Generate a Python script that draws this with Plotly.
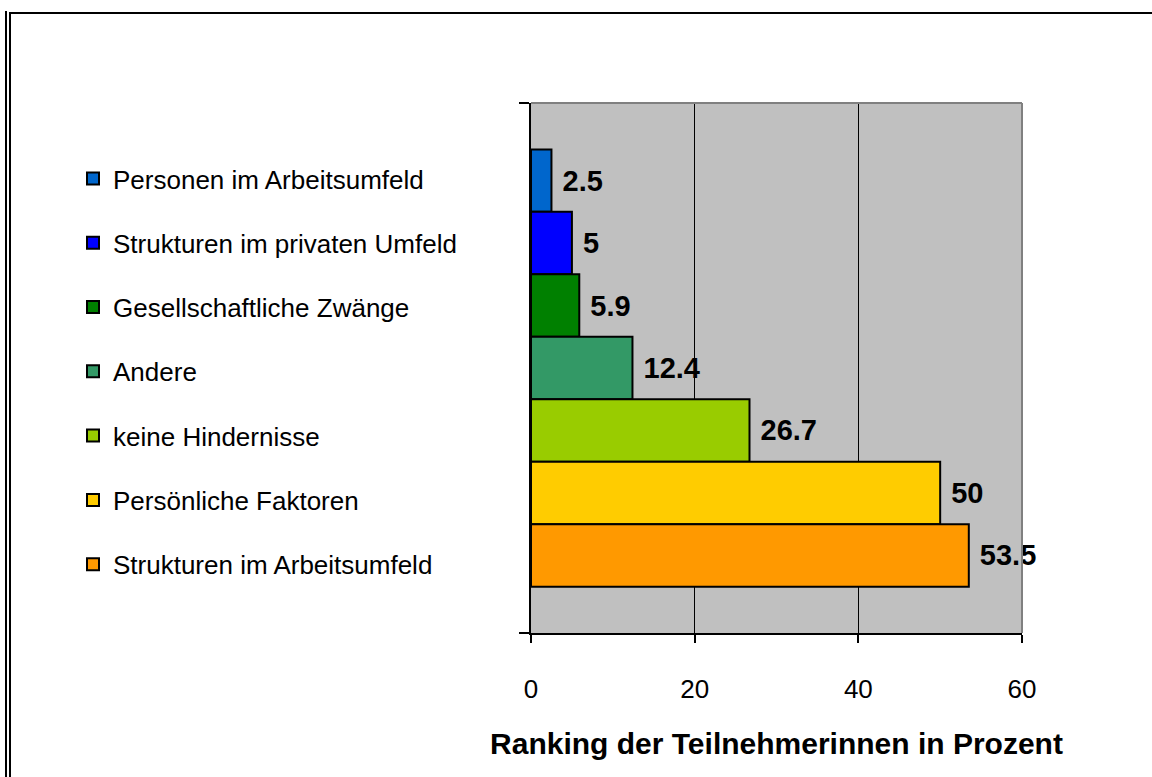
import plotly.graph_objects as go

# Obstacles named by participants (share in percent)
categories = [
    "Personen im Arbeitsumfeld",
    "Strukturen im privaten Umfeld",
    "Gesellschaftliche Zwänge",
    "Andere",
    "keine Hindernisse",
    "Persönliche Faktoren",
    "Strukturen im Arbeitsumfeld",
]
values = [2.5, 5, 5.9, 12.4, 26.7, 50, 53.5]
colors = ["#0066CC", "#0000FF", "#008000", "#339966", "#99CC00", "#FFCC00", "#FF9900"]
x_ticks = [0, 20, 40, 60]
x_title = "Ranking der Teilnehmerinnen in Prozent"
group_name = "Hindernisse"

W, H = 1152, 777
ML, MR, MT, MB = 531, 130, 103, 144
PW, PH = W - ML - MR, H - MT - MB


def px(x):
    return (x - ML) / PW


def py(y):
    return (H - MB - y) / PH


FONT = "Liberation Sans, Arial, sans-serif"

fig = go.Figure()
for name, val, col in zip(categories, values, colors):
    fig.add_trace(go.Bar(
        x=[val], y=[group_name], name=name, orientation="h",
        marker=dict(color=col, line=dict(color="black", width=2)),
        text=[f"{val:g}"], texttemplate=" %{text}", textposition="outside",
        textfont=dict(family=FONT, size=29, color="black", weight="bold"),
        constraintext="none", cliponaxis=False, legendgroup=name,
    ))

frame = dict(color="black", width=2)
shapes = [
    # plot area top and right border
    dict(type="line", xref="paper", yref="paper", x0=0, x1=1, y0=1, y1=1,
         line=dict(color="#808080", width=2)),
    dict(type="line", xref="paper", yref="paper", x0=1, x1=1, y0=0, y1=1,
         line=dict(color="#808080", width=2)),
    # outer frame: double line on the left, single line along the top
    dict(type="line", xref="paper", yref="paper", x0=px(6), x1=px(6), y0=py(11), y1=py(H), line=frame),
    dict(type="line", xref="paper", yref="paper", x0=px(10), x1=px(10), y0=py(13), y1=py(H), line=frame),
    dict(type="line", xref="paper", yref="paper", x0=px(9), x1=px(W), y0=py(13), y1=py(13), line=frame),
]

fig.update_layout(
    width=W, height=H,
    margin=dict(l=ML, r=MR, t=MT, b=MB, pad=0),
    paper_bgcolor="white", plot_bgcolor="#C0C0C0",
    barmode="group", bargap=0.175, bargroupgap=0,
    font=dict(family=FONT, size=26, color="black"),
    showlegend=True,
    legend=dict(
        x=px(73), y=py(155), xanchor="left", yanchor="top",
        xref="paper", yref="paper",
        font=dict(family=FONT, size=26, color="black"),
        tracegroupgap=27.5, bgcolor="rgba(0,0,0,0)", traceorder="grouped",
        itemclick=False, itemdoubleclick=False,
    ),
    xaxis=dict(
        range=[0, 60], tickvals=x_ticks, ticktext=[str(t) for t in x_ticks],
        showgrid=True, gridcolor="black", gridwidth=1,
        showline=True, linecolor="black", linewidth=2,
        ticks="outside", ticklen=8, tickwidth=2, tickcolor="black",
        ticklabelstandoff=24,
        tickfont=dict(family=FONT, size=26, color="black"),
        zeroline=False,
        title=dict(text=x_title, font=dict(family=FONT, size=30, color="black", weight="bold"),
                   standoff=30),
    ),
    yaxis=dict(
        type="category", range=[0.5, -0.5], showticklabels=False,
        showline=True, linecolor="black", linewidth=2,
        ticks="outside", ticklen=10, tickwidth=2, tickcolor="black",
        tickson="boundaries", showgrid=False, zeroline=False,
    ),
    shapes=shapes,
)

fig.write_html("out.html")
